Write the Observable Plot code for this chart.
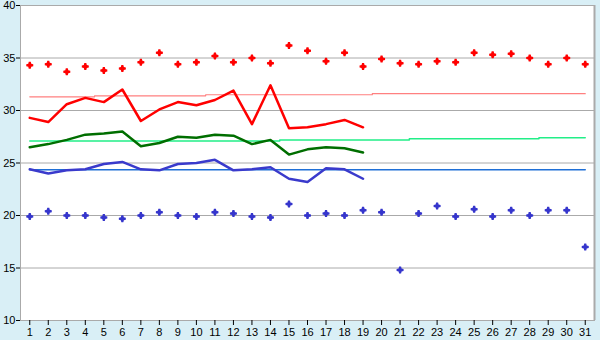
<!DOCTYPE html>
<html><head><meta charset="utf-8">
<script src="https://cdn.jsdelivr.net/npm/d3@7"></script>
<script src="https://cdn.jsdelivr.net/npm/@observablehq/plot@0.6"></script>
<style>body{margin:0;background:#d9eff6;}</style>
</head><body><div id="chart"></div>
<script>
const days = [1,2,3,4,5,6,7,8,9,10,11,12,13,14,15,16,17,18,19,20,21,22,23,24,25,26,27,28,29,30,31];
const lineDays = [1,2,3,4,5,6,7,8,9,10,11,12,13,14,15,16,17,18,19];
const maxTemp = [34.3,34.4,33.7,34.2,33.8,34.0,34.6,35.5,34.4,34.6,35.2,34.6,35.0,34.5,36.2,35.7,34.7,35.5,34.2,34.9,34.5,34.4,34.7,34.6,35.5,35.3,35.4,35.0,34.4,35.0,34.4];
const minTemp = [19.9,20.4,20.0,20.0,19.8,19.7,20.0,20.3,20.0,19.9,20.3,20.2,19.9,19.8,21.1,20.0,20.2,20.0,20.5,20.3,14.8,20.2,20.9,19.9,20.6,19.9,20.5,20.0,20.5,20.5,17.0];
const avgMax = [29.3,28.9,30.6,31.2,30.8,32.0,29.0,30.1,30.8,30.5,31.0,31.9,28.7,32.4,28.3,28.4,28.7,29.1,28.4];
const avgMean = [26.5,26.8,27.2,27.7,27.8,28.0,26.6,26.9,27.5,27.4,27.7,27.6,26.8,27.2,25.8,26.3,26.5,26.4,26.0];
const avgMin = [24.4,24.0,24.3,24.4,24.9,25.1,24.4,24.3,24.9,25.0,25.3,24.3,24.4,24.6,23.5,23.2,24.5,24.4,23.5];
const normMax = [31.3,31.3,31.3,31.3,31.4,31.4,31.4,31.4,31.4,31.4,31.5,31.5,31.5,31.5,31.5,31.5,31.5,31.5,31.5,31.6,31.6,31.6,31.6,31.6,31.6,31.6,31.6,31.6,31.6,31.6,31.6];
const normMean = [27.1,27.1,27.1,27.1,27.1,27.1,27.1,27.1,27.1,27.1,27.1,27.1,27.1,27.1,27.2,27.2,27.2,27.2,27.2,27.2,27.2,27.3,27.3,27.3,27.3,27.3,27.3,27.3,27.4,27.4,27.4];
const normMin = [24.35,24.35,24.35,24.35,24.35,24.35,24.35,24.35,24.35,24.35,24.35,24.35,24.35,24.35,24.35,24.35,24.35,24.35,24.35,24.35,24.35,24.35,24.35,24.35,24.35,24.35,24.35,24.35,24.35,24.35,24.35];
const yTicks = [10,15,20,25,30,35,40];
const gridValues = [15,20,25,30,35];

const daily = days.map((d,i)=>({day:d, max:maxTemp[i], min:minTemp[i], nMax:normMax[i], nMean:normMean[i], nMin:normMin[i]}));
const avg = lineDays.map((d,i)=>({day:d, hi:avgMax[i], mid:avgMean[i], lo:avgMin[i]}));

const marker = {
  draw(ctx){
    const p = [[-1,-3.5],[1,-3.5],[1.5,-1.5],[3.5,-1],[3.5,1],[1.5,1.5],[1,3.5],[-1,3.5],[-1.5,1.5],[-3.5,1],[-3.5,-1],[-1.5,-1.5]];
    ctx.moveTo(p[0][0],p[0][1]);
    for (let k=1;k<p.length;k++) ctx.lineTo(p[k][0],p[k][1]);
    ctx.closePath();
  }
};

const chart = Plot.plot({
  width: 600, height: 340,
  marginLeft: 20, marginRight: 6, marginTop: 5, marginBottom: 20,
  style: {background:"#d9eff6", fontFamily:"Liberation Sans", fontSize:"11px", color:"black"},
  x: {domain:[0.5,31.5], axis:null},
  y: {domain:[10,40], axis:null},
  marks: [
    Plot.frame({fill:"white", stroke:"#aaa"}),
    Plot.ruleY(gridValues, {stroke:"#aaa", strokeWidth:1}),
    Plot.ruleX([31.5], {stroke:"#aaa", strokeWidth:2}),
    Plot.axisX({ticks: days, tickFormat: d=>String(d), tickSize:5, tickPadding:3, stroke:"black", label:null}),
    Plot.axisY({ticks: yTicks, tickFormat: d=>String(d), tickSize:4, tickPadding:1, stroke:"black", label:null}),
    Plot.line(daily, {x:"day", y:"nMax", stroke:"#ff8080", strokeWidth:1.2, curve:"step"}),
    Plot.line(daily, {x:"day", y:"nMean", stroke:"#22ee88", strokeWidth:1.5, curve:"step"}),
    Plot.line(daily, {x:"day", y:"nMin", stroke:"#1f6fd6", strokeWidth:1.5, curve:"step"}),
    Plot.line(avg, {x:"day", y:"hi", stroke:"#ff0000", strokeWidth:2.5}),
    Plot.line(avg, {x:"day", y:"mid", stroke:"#006e00", strokeWidth:2.5}),
    Plot.line(avg, {x:"day", y:"lo", stroke:"#3a3acc", strokeWidth:2.5}),
    Plot.dot(daily, {x:"day", y:"max", symbol: marker, fill:"#ff0000", stroke:"none"}),
    Plot.dot(daily, {x:"day", y:"min", symbol: marker, fill:"#3535cc", stroke:"none"})
  ]
});
document.getElementById("chart").appendChild(chart);
</script>
</body></html>
